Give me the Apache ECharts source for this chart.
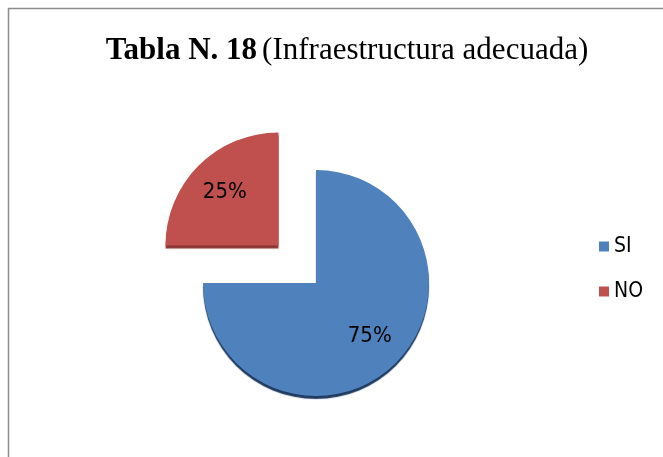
<!DOCTYPE html>
<html>
<head>
<meta charset="utf-8">
<script src="https://cdn.jsdelivr.net/npm/echarts@6/dist/echarts.min.js"></script>
<style>html,body{margin:0;padding:0;background:#fff}#c{width:663px;height:457px}</style>
</head>
<body>
<div id="c"></div>
<script>
const categories = ['SI', 'NO'];
const values = [75, 25];
const colors = ['#4F81BD', '#C0504D'];
const edgeColors = ['#1F3B60', '#8A3331'];

const chart = echarts.init(document.getElementById('c'));
const narrow = "'DejaVu Sans Condensed', 'Liberation Sans Narrow', 'Liberation Sans', sans-serif";
const pieData = categories.map((n, i) => ({
  name: n, value: values[i], selected: n === 'NO',
  itemStyle: { color: colors[i], shadowColor: edgeColors[i], shadowOffsetY: 3, shadowBlur: 1 }
}));
const labelData = categories.map((n, i) => ({ name: n, value: values[i], selected: n === 'NO' }));
chart.setOption({
  animation: false,
  title: {
    text: '{b|Tabla N. 18} {n|(Infraestructura adecuada)}',
    left: 342, textAlign: 'center', top: 30,
    textStyle: {
      fontWeight: 'normal',
      rich: {
        b: { fontFamily: "'Liberation Serif', serif", fontWeight: 'bold', fontSize: 31, color: '#000' },
        n: { fontFamily: "'Liberation Serif', serif", fontWeight: 'normal', fontSize: 31, color: '#000' }
      }
    }
  },
  legend: {
    orient: 'vertical', left: 594, top: 231, itemWidth: 10, itemHeight: 10, itemGap: 24,
    icon: 'rect', data: categories,
    textStyle: { fontFamily: narrow, fontSize: 21, color: '#000' }
  },
  graphic: [{
    type: 'rect', shape: { x: 8.5, y: 8.5, width: 700, height: 500 },
    style: { fill: 'none', stroke: '#8c8c8c', lineWidth: 1.5 }, silent: true
  }],
  series: [{
    type: 'pie', center: [316, 283], radius: [0, 113], startAngle: 90, clockwise: true,
    selectedMode: 'single', selectedOffset: 53, label: { show: false }, labelLine: { show: false },
    emphasis: { disabled: true }, data: pieData
  }, {
    type: 'pie', center: [316, 283], radius: [0, 146], startAngle: 90, clockwise: true,
    selectedMode: 'single', selectedOffset: 53, silent: true, z: 5,
    itemStyle: { color: 'rgba(0,0,0,0)' },
    label: { show: true, position: 'inside', formatter: '{c}%', fontFamily: narrow, fontSize: 22, color: '#000' },
    labelLine: { show: false }, emphasis: { disabled: true }, data: labelData
  }]
});
</script>
</body>
</html>
